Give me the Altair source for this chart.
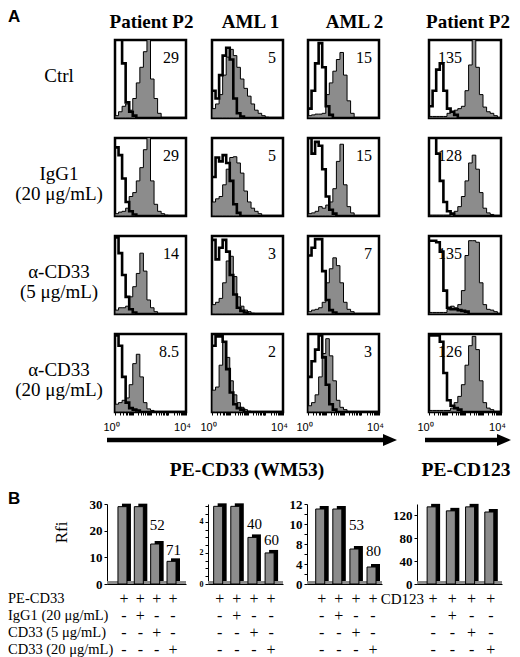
import altair as alt
import numpy as np
import pandas as pd

SERIF = "Liberation Serif"
SANS = "Liberation Sans"
GRAY = "#8c8c8c"

# ---------------- data ----------------
column_titles = ["Patient P2", "AML 1", "AML 2", "Patient P2"]
row_labels = ["Ctrl", "IgG1\n(20 μg/mL)", "α-CD33\n(5 μg/mL)", "α-CD33\n(20 μg/mL)"]
panel_letters = ["A", "B"]
mfi_ctrl = ["29", "5", "15", "135"]
mfi_igg1 = ["29", "5", "15", "128"]
mfi_cd33_5 = ["14", "3", "7", "135"]
mfi_cd33_20 = ["8.5", "2", "3", "126"]

# left edges of the fluorescence bins, in decades (10^0 .. 10^4)
bin_left = [0.0, 0.2, 0.4, 0.6, 0.8, 1.0, 1.2, 1.4, 1.6, 1.8,
            2.0, 2.2, 2.4, 2.6, 2.8, 3.0, 3.2, 3.4, 3.6, 3.8]

# stained (grey filled) and control (open black) histograms, % of panel height
p2_ctrl_stain = [3, 8, 15, 18, 10, 25, 45, 65, 85, 105, 50, 25, 6, 0, 0, 0, 0, 0, 0, 0]
p2_ctrl_iso = [120, 120, 70, 20, 8, 3, 0, 0, 0, 0, 0, 0, 0, 0, 0, 0, 0, 0, 0, 0]
aml1_ctrl_stain = [12, 18, 30, 55, 78, 88, 80, 65, 50, 38, 28, 18, 10, 6, 3, 1, 0, 0, 0, 0]
aml1_ctrl_iso = [35, 25, 55, 80, 90, 75, 25, 6, 2, 0, 0, 0, 0, 0, 0, 0, 0, 0, 0, 0]
aml2_ctrl_stain = [3, 4, 5, 5, 6, 30, 45, 60, 75, 84, 55, 22, 6, 0, 0, 0, 0, 0, 0, 0]
aml2_ctrl_iso = [12, 35, 70, 96, 65, 15, 4, 0, 0, 0, 0, 0, 0, 0, 0, 0, 0, 0, 0, 0]
cd123_ctrl_stain = [2, 2, 2, 2, 2, 6, 8, 10, 12, 15, 35, 68, 105, 65, 30, 14, 8, 6, 3, 0]
cd123_ctrl_iso = [15, 35, 62, 70, 35, 12, 8, 4, 0, 0, 0, 0, 0, 0, 0, 0, 0, 0, 0, 0]

p2_igg1_stain = [3, 5, 6, 10, 25, 30, 45, 62, 85, 105, 45, 15, 6, 3, 1, 0, 0, 0, 0, 0]
p2_igg1_iso = [88, 78, 48, 18, 6, 2, 0, 0, 0, 0, 0, 0, 0, 0, 0, 0, 0, 0, 0, 0]
aml1_igg1_stain = [18, 22, 25, 40, 60, 75, 76, 68, 55, 32, 18, 10, 6, 3, 0, 0, 0, 0, 0, 0]
aml1_igg1_iso = [50, 75, 70, 78, 68, 45, 15, 4, 0, 0, 0, 0, 0, 0, 0, 0, 0, 0, 0, 0]
aml2_igg1_stain = [3, 4, 6, 12, 10, 14, 18, 35, 70, 92, 40, 12, 4, 0, 0, 0, 0, 0, 0, 0]
aml2_igg1_iso = [100, 80, 95, 90, 60, 25, 8, 3, 0, 0, 0, 0, 0, 0, 0, 0, 0, 0, 0, 0]
cd123_igg1_stain = [1, 1, 1, 1, 1, 1, 3, 6, 12, 25, 45, 68, 78, 60, 30, 10, 4, 2, 0, 0]
cd123_igg1_iso = [110, 105, 80, 45, 18, 6, 3, 0, 0, 0, 0, 0, 0, 0, 0, 0, 0, 0, 0, 0]

p2_cd33_5_stain = [5, 8, 8, 10, 22, 35, 52, 78, 55, 18, 8, 3, 0, 0, 0, 0, 0, 0, 0, 0]
p2_cd33_5_iso = [98, 78, 50, 22, 6, 2, 0, 0, 0, 0, 0, 0, 0, 0, 0, 0, 0, 0, 0, 0]
aml1_cd33_5_stain = [12, 15, 20, 40, 68, 74, 48, 22, 10, 5, 3, 1, 0, 0, 0, 0, 0, 0, 0, 0]
aml1_cd33_5_iso = [95, 70, 85, 95, 80, 50, 25, 8, 4, 2, 0, 0, 0, 0, 0, 0, 0, 0, 0, 0]
aml2_cd33_5_stain = [3, 5, 6, 8, 15, 40, 58, 72, 62, 40, 15, 6, 3, 0, 0, 0, 0, 0, 0, 0]
aml2_cd33_5_iso = [75, 85, 96, 96, 55, 18, 5, 2, 0, 0, 0, 0, 0, 0, 0, 0, 0, 0, 0, 0]
cd123_cd33_5_stain = [2, 2, 2, 2, 2, 6, 10, 8, 12, 30, 75, 94, 94, 92, 40, 12, 6, 5, 3, 0]
cd123_cd33_5_iso = [94, 94, 92, 80, 30, 8, 6, 6, 5, 4, 3, 0, 0, 0, 0, 0, 0, 0, 0, 0]

p2_cd33_20_stain = [10, 12, 15, 18, 35, 62, 74, 45, 12, 4, 2, 0, 0, 0, 0, 0, 0, 0, 0, 0]
p2_cd33_20_iso = [98, 85, 45, 12, 5, 3, 2, 0, 0, 0, 0, 0, 0, 0, 0, 0, 0, 0, 0, 0]
aml1_cd33_20_stain = [28, 32, 60, 89, 70, 40, 22, 12, 6, 3, 1, 0, 0, 0, 0, 0, 0, 0, 0, 0]
aml1_cd33_20_iso = [85, 97, 97, 90, 55, 25, 10, 5, 3, 0, 0, 0, 0, 0, 0, 0, 0, 0, 0, 0]
aml2_cd33_20_stain = [8, 12, 22, 45, 75, 94, 72, 40, 15, 6, 3, 0, 0, 0, 0, 0, 0, 0, 0, 0]
aml2_cd33_20_iso = [45, 65, 80, 98, 70, 35, 10, 3, 0, 0, 0, 0, 0, 0, 0, 0, 0, 0, 0, 0]
cd123_cd33_20_stain = [2, 2, 2, 2, 2, 2, 5, 12, 20, 35, 60, 85, 97, 80, 40, 12, 5, 3, 0, 0]
cd123_cd33_20_iso = [98, 98, 98, 90, 50, 15, 8, 5, 3, 0, 0, 0, 0, 0, 0, 0, 0, 0, 0, 0]

axis_titles = ["PE-CD33 (WM53)", "PE-CD123"]

# panel B
rfi_p2 = [29, 29, 15, 8.5]
reduction_p2 = ["", "", "52", "71"]
rfi_aml1 = [5, 5, 3, 2]
reduction_aml1 = ["", "", "40", "60"]
rfi_aml2 = [15, 15, 7, 3.4]
reduction_aml2 = ["", "", "53", "80"]
rfi_cd123 = [135, 128, 135, 126]
reduction_cd123 = ["", "", "", ""]

p2_tick_values = [0, 10, 20, 30]
p2_tick_text = ["0", "10", "20", "30"]
aml1_tick_values = [0, 0.5, 1, 1.5, 2, 2.5, 3, 3.5, 4, 4.5, 5]
aml1_tick_text = ["0", "", "", "", "2", "", "", "", "4", "", ""]
aml2_tick_values = [0, 2, 4, 6, 8, 10, 12, 14, 16]
aml2_tick_text = ["0", "", "4", "", "8", "", "10", "", "12"]
cd123_tick_values = [0, 40, 80, 120]
cd123_tick_text = ["0", "40", "80", "120"]

table_rows = ["PE-CD33", "IgG1 (20 μg/mL)", "CD33 (5 μg/mL)", "CD33 (20 μg/mL)"]
# +/- per bar (bar 1..4), one list per table row
signs_pe = ["+", "+", "+", "+"]
signs_igg1 = ["-", "+", "-", "-"]
signs_cd33_5 = ["-", "-", "+", "-"]
signs_cd33_20 = ["-", "-", "-", "+"]
cd123_row_label = "CD123"

# ---------------- layout ----------------
PH = 78
PANEL_W = [71, 71, 71, 72]
GAPS = [26, 25, 50]
log_ticks = sorted(set([round(d + float(np.log10(k)), 4) for d in range(4) for k in range(1, 10)] + [4.0]))
title_dx = [1, 3, 11, 3]
one = pd.DataFrame({"k": [0]})
TABLE_RANGE = [86, 154]   # pixel band of the +/- table, below the 80 px bar plots


def spacer(w, h):
    return alt.Chart(pd.DataFrame({"t": [""]})).mark_text().encode(text="t:N").properties(width=w, height=h)


def hist_panel(stain, iso, mfi, col, row):
    pw = PANEL_W[col]
    df = pd.DataFrame({"x": bin_left + [4.0], "stain": stain + [0], "iso": iso + [0]})
    if row == 3:
        xaxis = alt.Axis(values=log_ticks,
                         labelExpr="datum.value == 0 ? '10⁰' : (datum.value == 4 ? '10⁴' : '')",
                         labelFont=SANS, labelFontSize=11, labelColor="black",
                         labelPadding=6, labelOffset=-4, labelFlush=False, labelOverlap=False,
                         tickSize=3, tickColor="black", tickWidth=1,
                         domain=False, grid=False, title=None)
    else:
        xaxis = None
    xenc = alt.X("x:Q", scale=alt.Scale(domain=[0, 4], nice=False, zero=False), axis=xaxis)
    yscale = alt.Scale(domain=[0, 100], nice=False)
    base = alt.Chart(df)
    area = base.mark_area(interpolate="step-after", fill=GRAY, stroke="black",
                          strokeWidth=1, clip=True).encode(
        x=xenc, y=alt.Y("stain:Q", scale=yscale, axis=None))
    line = base.mark_line(interpolate="step-after", color="black", strokeWidth=2.6,
                          clip=True).encode(
        x=xenc, y=alt.Y("iso:Q", scale=yscale, axis=None))
    if col < 3:
        txt = alt.Chart(pd.DataFrame({"t": [mfi]})).mark_text(
            font=SERIF, fontSize=16, align="right", baseline="alphabetic", color="black").encode(
            text="t:N", x=alt.value(pw - 7), y=alt.value(23))
    else:
        txt = alt.Chart(pd.DataFrame({"t": [mfi]})).mark_text(
            font=SERIF, fontSize=16, align="left", baseline="alphabetic", color="black").encode(
            text="t:N", x=alt.value(9), y=alt.value(23))
    layers = [area, line, txt]
    if row == 0:
        layers.append(alt.Chart(pd.DataFrame({"t": [column_titles[col]]})).mark_text(
            font=SERIF, fontSize=19, fontWeight="bold", align="center",
            baseline="alphabetic", color="black").encode(
            text="t:N", x=alt.value(pw / 2 + title_dx[col]), y=alt.value(-12)))
    return alt.layer(*layers).properties(
        width=pw, height=PH, view=alt.ViewBackground(stroke="black", strokeWidth=2.5))


def hist_row(r, stains, isos, mfis):
    panels = [hist_panel(stains[c], isos[c], mfis[c], c, r) for c in range(4)]
    lab = alt.Chart(pd.DataFrame({"t": [row_labels[r]]})).mark_text(
        font=SERIF, fontSize=19, align="center", baseline="middle",
        lineBreak="\n", lineHeight=20, color="black").encode(
        text="t:N", x=alt.value(51), y=alt.value(36))
    if r == 0:
        letter = alt.Chart(pd.DataFrame({"t": [panel_letters[0]]})).mark_text(
            font=SANS, fontSize=17, fontWeight="bold", align="left",
            baseline="alphabetic", color="black").encode(
            text="t:N", x=alt.value(0), y=alt.value(-18))
        lab = alt.layer(lab, letter)
    lab = lab.properties(width=107, height=PH)
    return alt.hconcat(lab, panels[0], spacer(GAPS[0], PH), panels[1], spacer(GAPS[1], PH),
                       panels[2], spacer(GAPS[2], PH), panels[3], spacing=0, bounds="flush")


hist_grid = alt.vconcat(
    hist_row(0, [p2_ctrl_stain, aml1_ctrl_stain, aml2_ctrl_stain, cd123_ctrl_stain],
             [p2_ctrl_iso, aml1_ctrl_iso, aml2_ctrl_iso, cd123_ctrl_iso], mfi_ctrl),
    hist_row(1, [p2_igg1_stain, aml1_igg1_stain, aml2_igg1_stain, cd123_igg1_stain],
             [p2_igg1_iso, aml1_igg1_iso, aml2_igg1_iso, cd123_igg1_iso], mfi_igg1),
    hist_row(2, [p2_cd33_5_stain, aml1_cd33_5_stain, aml2_cd33_5_stain, cd123_cd33_5_stain],
             [p2_cd33_5_iso, aml1_cd33_5_iso, aml2_cd33_5_iso, cd123_cd33_5_iso], mfi_cd33_5),
    hist_row(3, [p2_cd33_20_stain, aml1_cd33_20_stain, aml2_cd33_20_stain, cd123_cd33_20_stain],
             [p2_cd33_20_iso, aml1_cd33_20_iso, aml2_cd33_20_iso, cd123_cd33_20_iso], mfi_cd33_20),
    spacing=16,
)


# arrows + axis titles
def arrow_layers(x1, x2, y, label, tx, ty):
    shaft = alt.Chart(one).mark_rule(color="black", strokeWidth=4.5).encode(
        x=alt.value(x1), x2=alt.value(x2 - 8), y=alt.value(y))
    head = alt.Chart(one).mark_point(shape="M-1,-0.85L1,0L-1,0.85Z", size=196, filled=True,
                                     color="black", opacity=1).encode(
        x=alt.value(x2 - 7), y=alt.value(y))
    text = alt.Chart(pd.DataFrame({"t": [label]})).mark_text(
        font=SERIF, fontSize=19.5, fontWeight="bold", align="center",
        baseline="alphabetic", color="black").encode(
        text="t:N", x=alt.value(tx), y=alt.value(ty))
    return [shaft, head, text]


arrow_row = alt.layer(
    *arrow_layers(99, 389, 6, axis_titles[0], 239, 42),
    *arrow_layers(417, 503, 6, axis_titles[1], 458, 42),
).properties(width=496, height=56)


def label_expr(vals, texts):
    expr = "''"
    for v, t in zip(vals, texts):
        expr = f"datum.value == {v} ? '{t}' : ({expr})"
    return expr


def sign_expr():
    cols = list(zip(signs_pe, signs_igg1, signs_cd33_5, signs_cd33_20))
    expr = "''"
    for i, col in enumerate(cols):
        arr = "[" + ", ".join(f"'{s}'" for s in col) + "]"
        expr = f"datum.value == {i + 1} ? {arr} : ({expr})"
    return expr


def bar_chart(vals, reds, ydom, tvals, ttext, lsize, xdom, width, red_dy, rfi_title, extra=None):
    df = pd.DataFrame({"i": [1, 2, 3, 4], "v": vals, "r": reds})
    xscale = alt.Scale(domain=xdom, nice=False, zero=False)
    x = alt.X("i:Q", scale=xscale,
              axis=alt.Axis(values=[1, 2, 3, 4], labelExpr=sign_expr(), labelFont=SERIF,
                            labelFontSize=16, labelLineHeight=17, labelBaseline="top",
                            labelColor="black", labelPadding=6, labelOffset=1,
                            labelFlush=False, labelOverlap=False, ticks=False, tickSize=0,
                            domainColor="black", grid=False, title=None))
    ax = dict(values=tvals, labelExpr=label_expr(tvals, ttext), labelFont=SERIF,
              labelFontWeight="bold", labelFontSize=lsize, labelColor="black",
              labelPadding=2, tickSize=3, tickColor="black", domainColor="black",
              grid=False, labelOverlap=False, labelFlush=False)
    if rfi_title:
        ax.update(title="Rfi", titleFont=SERIF, titleFontSize=17, titleFontWeight="normal",
                  titleColor="black", titleX=-46, titleY=28, titleAngle=270,
                  titleAlign="center", titleBaseline="middle")
    else:
        ax.update(title=None)
    y = alt.Y("v:Q", scale=alt.Scale(domain=ydom, nice=False), axis=alt.Axis(**ax))
    base = alt.Chart(df)
    floor = alt.Chart(one).mark_rule(color=GRAY, strokeWidth=3, yOffset=-1.5).encode(
        x=alt.value(0), x2=alt.value(width), y=alt.value(80))
    back = base.mark_bar(size=9, color="black", xOffset=4, yOffset=-3).encode(x=x, y=y)
    front = base.mark_bar(size=9, fill=GRAY, stroke="black", strokeWidth=1).encode(x=x, y=y)
    layers = [floor, back, front]
    for k, bi in enumerate([3, 4]):
        layers.append(base.transform_filter(f"datum.i == {bi} && datum.r != ''").mark_text(
            font=SERIF, fontSize=15, align="center", baseline="alphabetic",
            dx=2, dy=red_dy[k], color="black").encode(x=x, y=y, text="r:N"))
    if extra is not None:
        layers.append(alt.Chart(pd.DataFrame({"t": [extra]})).mark_text(
            font=SERIF, fontSize=15, color="black", align="right", baseline="middle").encode(
            x=alt.value(7), y=alt.value(94.5), text="t:N"))
    return alt.layer(*layers).properties(width=width, height=80)


XD1, XD2, XD3, XD4 = [0.36, 4.58], [0.7, 4.49], [0.52, 4.32], [0.5, 4.4]
W1, W2, W3, W4 = 79, 75, 75, 85

c1 = bar_chart(rfi_p2, reduction_p2, [0, 30], p2_tick_values, p2_tick_text, 13, XD1, W1, [-14, -6], True)
c2 = bar_chart(rfi_aml1, reduction_aml1, [0, 5.15], aml1_tick_values, aml1_tick_text, 8, XD2, W2, [-8, -8], False)
c3 = bar_chart(rfi_aml2, reduction_aml2, [0, 16], aml2_tick_values, aml2_tick_text, 13, XD3, W3, [-19, -11], False)
c4 = bar_chart(rfi_cd123, reduction_cd123, [0, 140], cd123_tick_values, cd123_tick_text, 13, XD4, W4, [-8, -8], False,
               extra=cd123_row_label)

row_names = alt.Chart(pd.DataFrame({"cond": table_rows})).mark_text(
    font=SERIF, fontSize=14.5, align="left", baseline="middle", color="black").encode(
    x=alt.value(0),
    y=alt.Y("cond:N", sort=table_rows, axis=None,
            scale=alt.Scale(range=TABLE_RANGE, paddingInner=0, paddingOuter=0)),
    text="cond:N")
letter_b = alt.Chart(pd.DataFrame({"t": [panel_letters[1]]})).mark_text(
    font=SANS, fontSize=17, fontWeight="bold", align="left", baseline="alphabetic",
    color="black").encode(text="t:N", x=alt.value(0), y=alt.value(0))
b_left = alt.layer(row_names, letter_b).properties(width=99, height=80)

bar_row = alt.hconcat(b_left, c1, spacer(22, 80), c2, spacer(24, 80), c3, spacer(35, 80), c4,
                      spacing=0, bounds="flush")

chart = alt.vconcat(hist_grid, arrow_row, bar_row, spacing=0).properties(
    padding=0, background="white"
).configure_view(stroke="transparent", strokeWidth=0)

chart.save("out.html", embed_options={"renderer": "svg", "actions": False})
